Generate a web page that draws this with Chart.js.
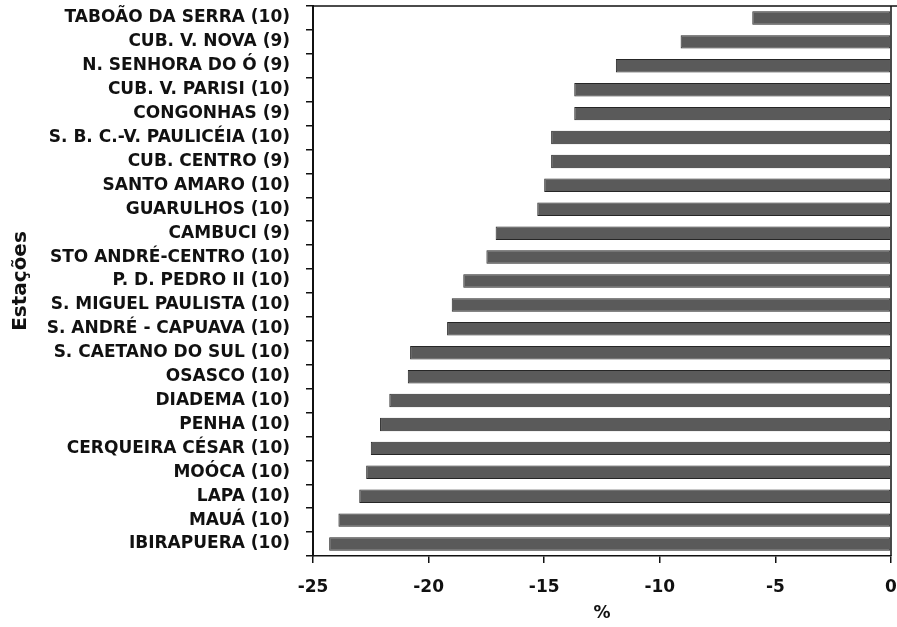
<!DOCTYPE html>
<html>
<head>
<meta charset="utf-8">
<script src="https://cdn.jsdelivr.net/npm/chart.js@4"></script>
<style>
  html, body { margin: 0; padding: 0; background: #fff; }
  canvas { display: block; }
</style>
</head>
<body>
<canvas id="chart" width="897" height="627"></canvas>
<script>
const estacoes = [
  'TABOÃO DA SERRA (10)', 'CUB. V. NOVA (9)', 'N. SENHORA DO Ó (9)', 'CUB. V. PARISI (10)',
  'CONGONHAS (9)', 'S. B. C.-V. PAULICÉIA (10)', 'CUB. CENTRO (9)', 'SANTO AMARO (10)',
  'GUARULHOS (10)', 'CAMBUCI (9)', 'STO ANDRÉ-CENTRO (10)', 'P. D. PEDRO II (10)',
  'S. MIGUEL PAULISTA (10)', 'S. ANDRÉ - CAPUAVA (10)', 'S. CAETANO DO SUL (10)', 'OSASCO (10)',
  'DIADEMA (10)', 'PENHA (10)', 'CERQUEIRA CÉSAR (10)', 'MOÓCA (10)',
  'LAPA (10)', 'MAUÁ (10)', 'IBIRAPUERA (10)'
];
const variacao = [
  -6.0, -9.1, -11.9, -13.7,
  -13.7, -14.7, -14.7, -15.0,
  -15.3, -17.1, -17.5, -18.5,
  -19.0, -19.2, -20.8, -20.9,
  -21.7, -22.1, -22.5, -22.7,
  -23.0, -23.9, -24.3
];
const xMin = -25;
const xMax = 0;
const xStep = 5;

const font = 'DejaVu Sans';

// top and right lines of the frame
const framePlugin = {
  id: 'frame',
  afterDraw(chart) {
    const { ctx, chartArea } = chart;
    ctx.save();
    ctx.strokeStyle = '#111';
    ctx.lineWidth = 1.5;
    ctx.beginPath();
    ctx.moveTo(chartArea.left, chartArea.top);
    ctx.lineTo(chart.width, chartArea.top);
    ctx.moveTo(chartArea.right, chartArea.top);
    ctx.lineTo(chartArea.right, chartArea.bottom);
    ctx.stroke();
    ctx.restore();
  }
};

new Chart(document.getElementById('chart'), {
  type: 'bar',
  data: {
    labels: estacoes,
    datasets: [{
      data: variacao,
      backgroundColor: '#5a5a5a',
      borderColor: '#262626',
      borderWidth: 1,
      borderSkipped: false,
      barPercentage: 0.75,
      categoryPercentage: 0.75,
    }],
  },
  options: {
    indexAxis: 'y',
    responsive: false,
    animation: false,
    layout: { padding: { top: 6, right: 6, bottom: 0, left: 0 } },
    plugins: {
      legend: { display: false },
      tooltip: { enabled: false },
    },
    scales: {
      x: {
        min: xMin,
        max: xMax,
        afterFit: (scale) => {
          scale.height = 71;
          scale.paddingLeft = 0;
          scale.paddingRight = 0;
        },
        ticks: {
          stepSize: xStep,
          color: '#111',
          padding: 14,
          font: { family: font, weight: 'bold', size: 17 },
        },
        grid: { drawOnChartArea: false, tickLength: 7, color: '#111', lineWidth: 1.5 },
        border: { color: '#111', width: 1.5 },
        title: {
          display: true,
          text: '%',
          color: '#111',
          padding: { top: 0, bottom: 3 },
          font: { family: font, weight: 'bold', size: 17 },
        },
      },
      y: {
        afterFit: (scale) => {
          scale.width = 313;
          scale.paddingTop = 0;
          scale.paddingBottom = 0;
        },
        ticks: {
          color: '#111',
          padding: 16,
          autoSkip: false,
          font: { family: font, weight: 'bold', size: 17 },
        },
        grid: { drawOnChartArea: false, tickLength: 7, color: '#111', lineWidth: 1.5, offset: true },
        border: { color: '#111', width: 2 },
        title: {
          display: true,
          text: 'Estações',
          color: '#111',
          padding: { top: 9, bottom: 0 },
          font: { family: font, weight: 'bold', size: 20 },
        },
      },
    },
  },
  plugins: [framePlugin],
});
</script>
</body>
</html>
